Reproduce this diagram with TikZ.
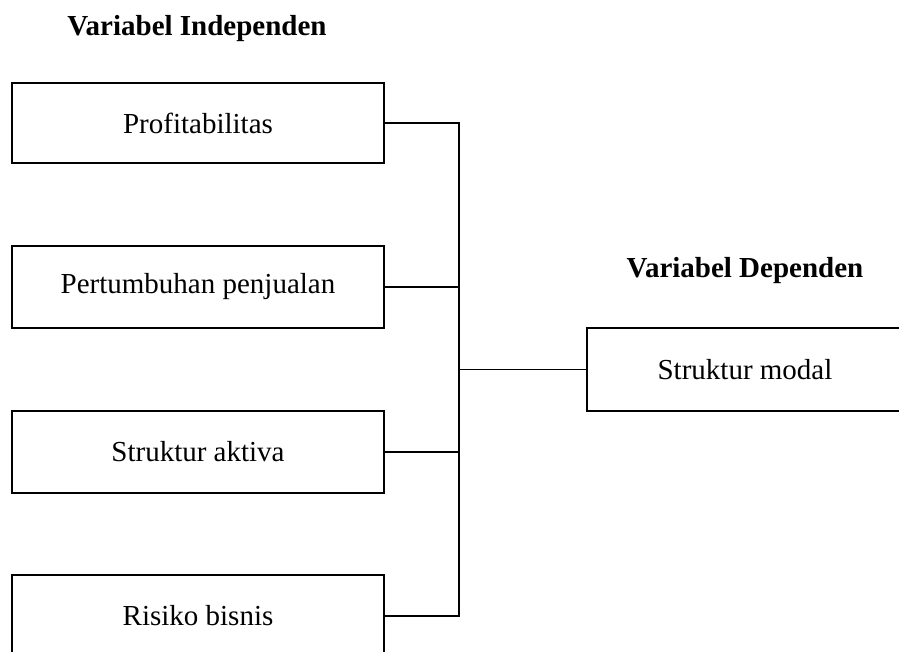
\documentclass[tikz,border=0pt]{standalone}
\usepackage{fontspec}
\setmainfont{Liberation Serif}
\begin{document}
\begin{tikzpicture}[x=1pt,y=-1pt,
  varbox/.style={draw,line width=1.4pt,rectangle,minimum width=372pt,inner sep=0pt,font=\fontsize{29}{34}\selectfont},
  title/.style={font=\fontsize{29}{34}\selectfont\bfseries,inner sep=0pt},
  conn/.style={line width=1.4pt}]
\clip (0,0) rectangle (899,652);
\node[title] (ti) at (197,29) {Variabel Independen};
\node[title] (td) at (745,271) {Variabel Dependen};
\node[varbox,minimum height=80pt] (b1) at (198,123) {Profitabilitas};
\node[varbox,minimum height=82pt] (b2) at (198,287) {Pertumbuhan penjualan};
\node[varbox,minimum height=82pt] (b3) at (198,452) {Struktur aktiva};
\node[varbox,minimum height=82pt] (b4) at (198,616) {Risiko bisnis};
\node[varbox,minimum height=83pt,minimum width=420pt] (dep) at (797,369.5) {};
\node[font=\fontsize{29}{34}\selectfont,inner sep=0pt] (deptext) at (745,369.5) {Struktur modal};
\coordinate (j) at (459,369.5);
\draw[conn] (b1.east) -- (b1.east -| j) -- (b4.east -| j) -- (b4.east);
\draw[conn] (b2.east) -- (b2.east -| j);
\draw[conn] (b3.east) -- (b3.east -| j);
\draw[conn] (j) -- (dep.west);
\end{tikzpicture}
\end{document}
